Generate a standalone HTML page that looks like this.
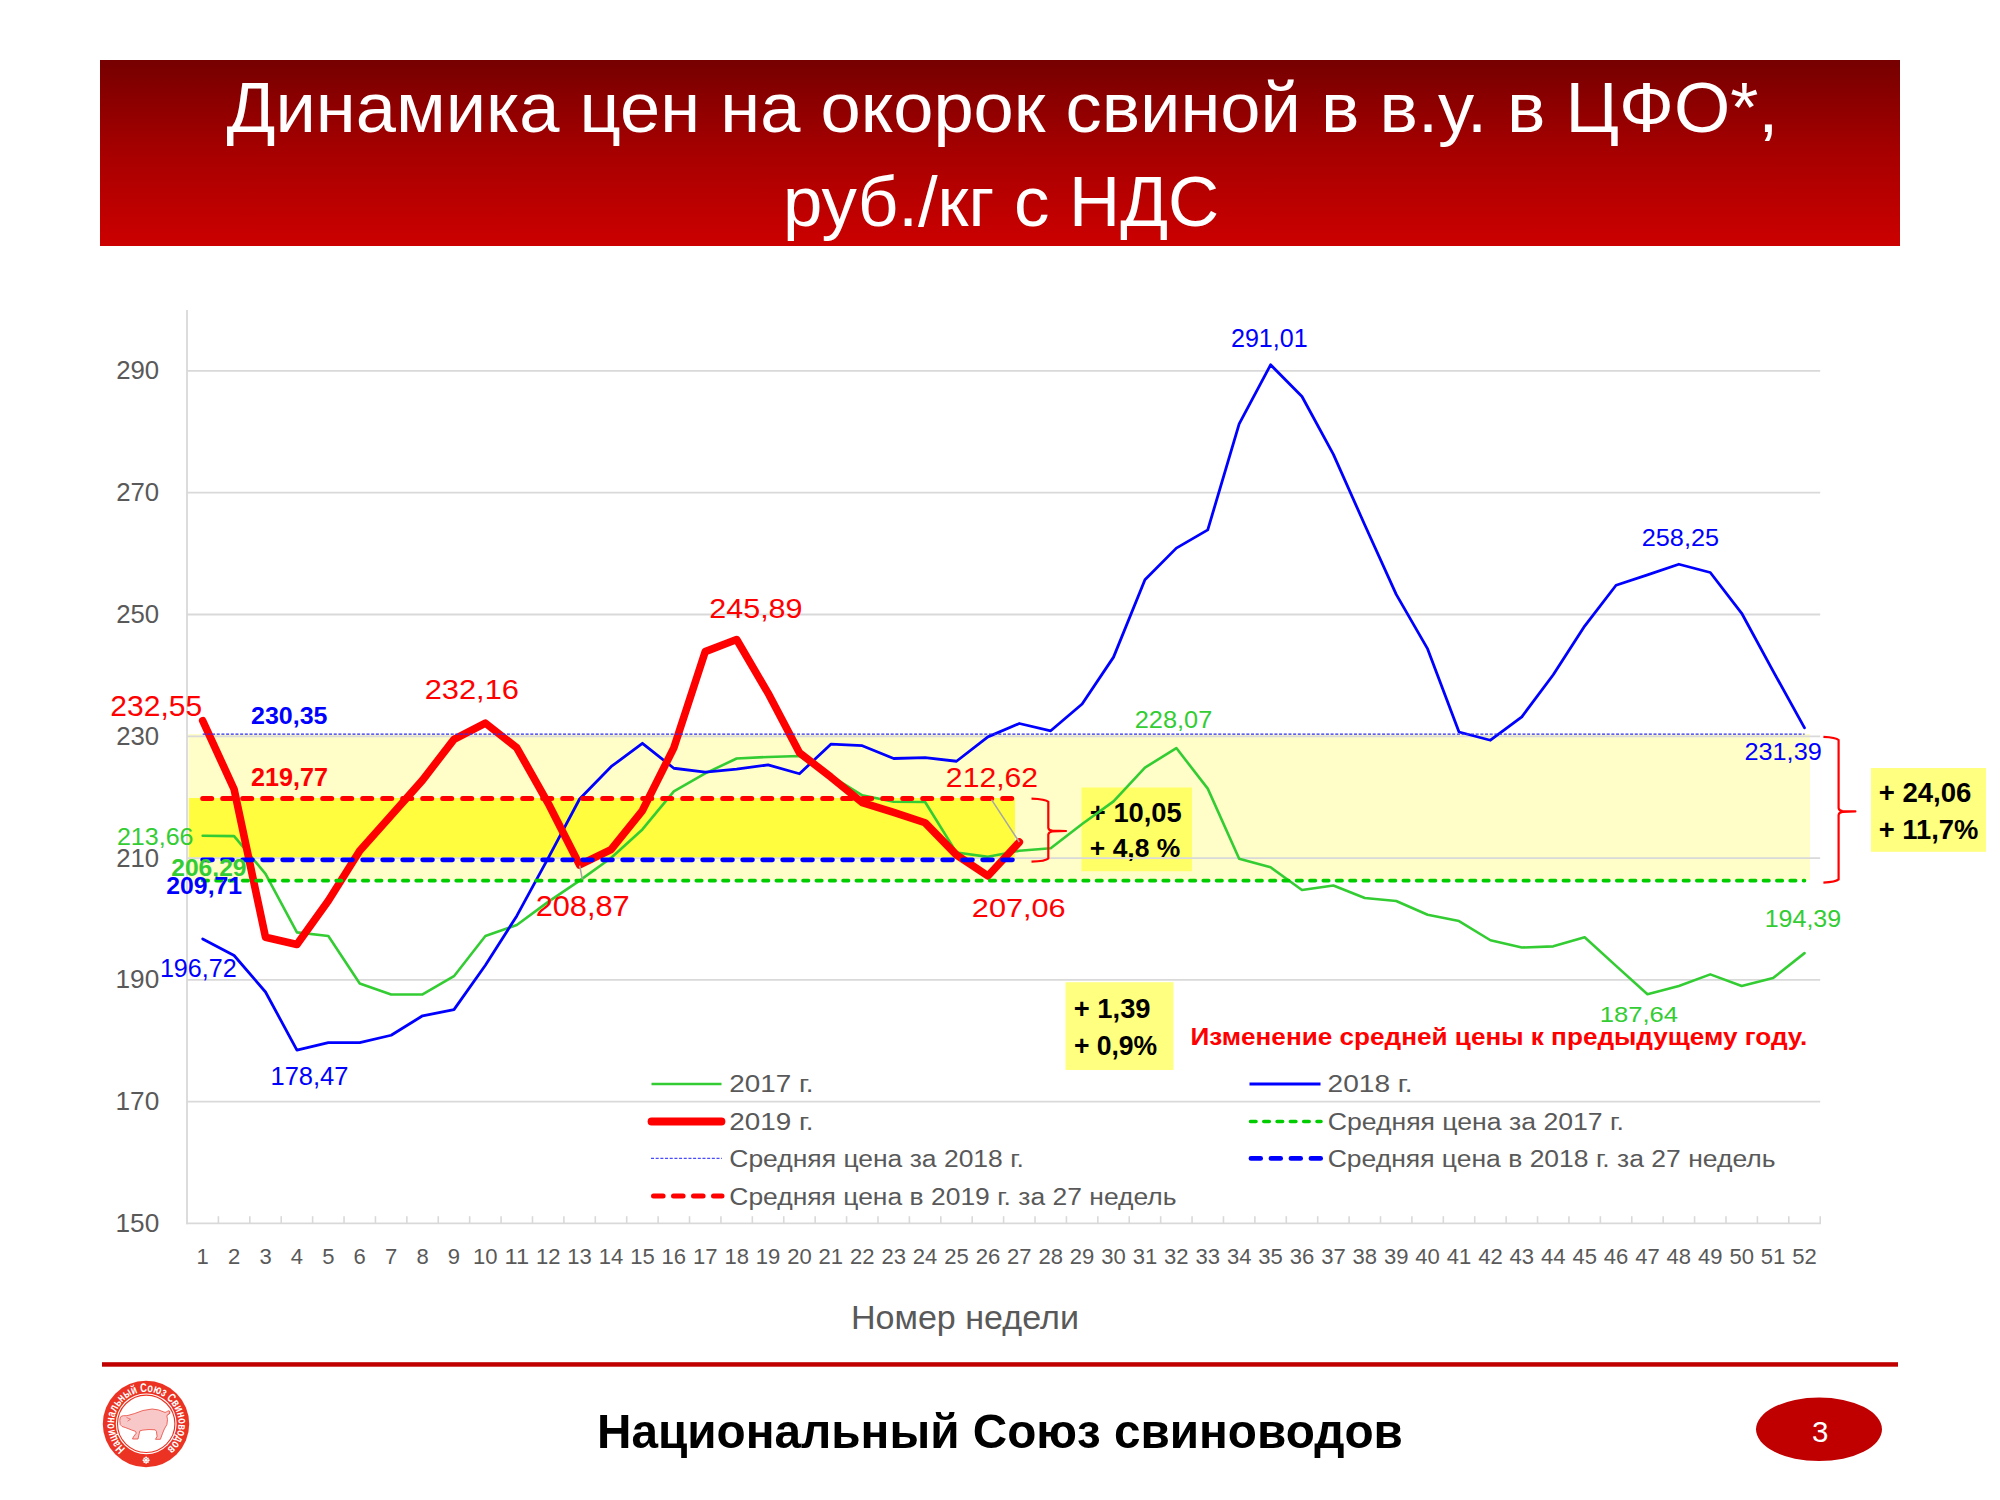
<!DOCTYPE html><html><head><meta charset="utf-8"><style>
html,body{margin:0;padding:0;background:#fff;overflow:hidden;width:2000px;height:1500px;}
svg{display:block;}
text{font-family:"Liberation Sans",sans-serif;}
</style></head><body>
<svg width="2000" height="1500" viewBox="0 0 2000 1500" font-family="Liberation Sans, sans-serif">
<defs>
<linearGradient id="bg" x1="0" y1="0" x2="0" y2="1">
<stop offset="0" stop-color="#760000"/><stop offset="0.5" stop-color="#a70000"/><stop offset="1" stop-color="#cc0000"/>
</linearGradient>
</defs>
<rect width="2000" height="1500" fill="#fff"/>
<rect x="100" y="60" width="1800" height="186" fill="url(#bg)"/>
<text x="226.47" y="131.80" font-size="69.71" fill="#fff" textLength="1552.00" lengthAdjust="spacingAndGlyphs">Динамика цен на окорок свиной в в.у. в ЦФО*,</text>
<text x="783.04" y="225.70" font-size="69.57" fill="#fff" textLength="436.16" lengthAdjust="spacingAndGlyphs">руб./кг с НДС</text>
<rect x="188.5" y="734" width="1621.5" height="146" fill="#fffdc8"/>
<rect x="189" y="798" width="826" height="59.5" fill="#fffd3e"/>
<rect x="1081.5" y="787.5" width="110.5" height="83.7" fill="#ffff66"/>
<rect x="1065.5" y="982.2" width="108" height="87.8" fill="#ffff80"/>
<rect x="1871" y="768" width="115" height="83.8" fill="#ffff80"/>
<text x="1089.85" y="821.80" font-size="27.64" font-weight="bold" fill="#000" textLength="91.91" lengthAdjust="spacingAndGlyphs">+ 10,05</text>
<text x="1089.89" y="856.50" font-size="25.78" font-weight="bold" fill="#000" textLength="90.31" lengthAdjust="spacingAndGlyphs">+ 4,8 %</text>
<line x1="187.0" y1="1101.62" x2="1820.2" y2="1101.62" stroke="#d9d9d9" stroke-width="1.8"/>
<line x1="187.0" y1="979.84" x2="1820.2" y2="979.84" stroke="#d9d9d9" stroke-width="1.8"/>
<line x1="187.0" y1="858.06" x2="1820.2" y2="858.06" stroke="#d9d9d9" stroke-width="1.8"/>
<line x1="187.0" y1="736.28" x2="1820.2" y2="736.28" stroke="#d9d9d9" stroke-width="1.8"/>
<line x1="187.0" y1="614.50" x2="1820.2" y2="614.50" stroke="#d9d9d9" stroke-width="1.8"/>
<line x1="187.0" y1="492.72" x2="1820.2" y2="492.72" stroke="#d9d9d9" stroke-width="1.8"/>
<line x1="187.0" y1="370.94" x2="1820.2" y2="370.94" stroke="#d9d9d9" stroke-width="1.8"/>
<line x1="187.0" y1="310" x2="187.0" y2="1224.20" stroke="#d9d9d9" stroke-width="1.8"/>
<line x1="186.1" y1="1223.40" x2="1821" y2="1223.40" stroke="#d9d9d9" stroke-width="1.8"/>
<line x1="218.41" y1="1216.2" x2="218.41" y2="1223.40" stroke="#d9d9d9" stroke-width="1.6"/>
<line x1="249.82" y1="1216.2" x2="249.82" y2="1223.40" stroke="#d9d9d9" stroke-width="1.6"/>
<line x1="281.22" y1="1216.2" x2="281.22" y2="1223.40" stroke="#d9d9d9" stroke-width="1.6"/>
<line x1="312.63" y1="1216.2" x2="312.63" y2="1223.40" stroke="#d9d9d9" stroke-width="1.6"/>
<line x1="344.04" y1="1216.2" x2="344.04" y2="1223.40" stroke="#d9d9d9" stroke-width="1.6"/>
<line x1="375.45" y1="1216.2" x2="375.45" y2="1223.40" stroke="#d9d9d9" stroke-width="1.6"/>
<line x1="406.86" y1="1216.2" x2="406.86" y2="1223.40" stroke="#d9d9d9" stroke-width="1.6"/>
<line x1="438.26" y1="1216.2" x2="438.26" y2="1223.40" stroke="#d9d9d9" stroke-width="1.6"/>
<line x1="469.67" y1="1216.2" x2="469.67" y2="1223.40" stroke="#d9d9d9" stroke-width="1.6"/>
<line x1="501.08" y1="1216.2" x2="501.08" y2="1223.40" stroke="#d9d9d9" stroke-width="1.6"/>
<line x1="532.49" y1="1216.2" x2="532.49" y2="1223.40" stroke="#d9d9d9" stroke-width="1.6"/>
<line x1="563.90" y1="1216.2" x2="563.90" y2="1223.40" stroke="#d9d9d9" stroke-width="1.6"/>
<line x1="595.30" y1="1216.2" x2="595.30" y2="1223.40" stroke="#d9d9d9" stroke-width="1.6"/>
<line x1="626.71" y1="1216.2" x2="626.71" y2="1223.40" stroke="#d9d9d9" stroke-width="1.6"/>
<line x1="658.12" y1="1216.2" x2="658.12" y2="1223.40" stroke="#d9d9d9" stroke-width="1.6"/>
<line x1="689.53" y1="1216.2" x2="689.53" y2="1223.40" stroke="#d9d9d9" stroke-width="1.6"/>
<line x1="720.94" y1="1216.2" x2="720.94" y2="1223.40" stroke="#d9d9d9" stroke-width="1.6"/>
<line x1="752.34" y1="1216.2" x2="752.34" y2="1223.40" stroke="#d9d9d9" stroke-width="1.6"/>
<line x1="783.75" y1="1216.2" x2="783.75" y2="1223.40" stroke="#d9d9d9" stroke-width="1.6"/>
<line x1="815.16" y1="1216.2" x2="815.16" y2="1223.40" stroke="#d9d9d9" stroke-width="1.6"/>
<line x1="846.57" y1="1216.2" x2="846.57" y2="1223.40" stroke="#d9d9d9" stroke-width="1.6"/>
<line x1="877.98" y1="1216.2" x2="877.98" y2="1223.40" stroke="#d9d9d9" stroke-width="1.6"/>
<line x1="909.38" y1="1216.2" x2="909.38" y2="1223.40" stroke="#d9d9d9" stroke-width="1.6"/>
<line x1="940.79" y1="1216.2" x2="940.79" y2="1223.40" stroke="#d9d9d9" stroke-width="1.6"/>
<line x1="972.20" y1="1216.2" x2="972.20" y2="1223.40" stroke="#d9d9d9" stroke-width="1.6"/>
<line x1="1003.61" y1="1216.2" x2="1003.61" y2="1223.40" stroke="#d9d9d9" stroke-width="1.6"/>
<line x1="1035.02" y1="1216.2" x2="1035.02" y2="1223.40" stroke="#d9d9d9" stroke-width="1.6"/>
<line x1="1066.42" y1="1216.2" x2="1066.42" y2="1223.40" stroke="#d9d9d9" stroke-width="1.6"/>
<line x1="1097.83" y1="1216.2" x2="1097.83" y2="1223.40" stroke="#d9d9d9" stroke-width="1.6"/>
<line x1="1129.24" y1="1216.2" x2="1129.24" y2="1223.40" stroke="#d9d9d9" stroke-width="1.6"/>
<line x1="1160.65" y1="1216.2" x2="1160.65" y2="1223.40" stroke="#d9d9d9" stroke-width="1.6"/>
<line x1="1192.06" y1="1216.2" x2="1192.06" y2="1223.40" stroke="#d9d9d9" stroke-width="1.6"/>
<line x1="1223.46" y1="1216.2" x2="1223.46" y2="1223.40" stroke="#d9d9d9" stroke-width="1.6"/>
<line x1="1254.87" y1="1216.2" x2="1254.87" y2="1223.40" stroke="#d9d9d9" stroke-width="1.6"/>
<line x1="1286.28" y1="1216.2" x2="1286.28" y2="1223.40" stroke="#d9d9d9" stroke-width="1.6"/>
<line x1="1317.69" y1="1216.2" x2="1317.69" y2="1223.40" stroke="#d9d9d9" stroke-width="1.6"/>
<line x1="1349.10" y1="1216.2" x2="1349.10" y2="1223.40" stroke="#d9d9d9" stroke-width="1.6"/>
<line x1="1380.50" y1="1216.2" x2="1380.50" y2="1223.40" stroke="#d9d9d9" stroke-width="1.6"/>
<line x1="1411.91" y1="1216.2" x2="1411.91" y2="1223.40" stroke="#d9d9d9" stroke-width="1.6"/>
<line x1="1443.32" y1="1216.2" x2="1443.32" y2="1223.40" stroke="#d9d9d9" stroke-width="1.6"/>
<line x1="1474.73" y1="1216.2" x2="1474.73" y2="1223.40" stroke="#d9d9d9" stroke-width="1.6"/>
<line x1="1506.14" y1="1216.2" x2="1506.14" y2="1223.40" stroke="#d9d9d9" stroke-width="1.6"/>
<line x1="1537.54" y1="1216.2" x2="1537.54" y2="1223.40" stroke="#d9d9d9" stroke-width="1.6"/>
<line x1="1568.95" y1="1216.2" x2="1568.95" y2="1223.40" stroke="#d9d9d9" stroke-width="1.6"/>
<line x1="1600.36" y1="1216.2" x2="1600.36" y2="1223.40" stroke="#d9d9d9" stroke-width="1.6"/>
<line x1="1631.77" y1="1216.2" x2="1631.77" y2="1223.40" stroke="#d9d9d9" stroke-width="1.6"/>
<line x1="1663.18" y1="1216.2" x2="1663.18" y2="1223.40" stroke="#d9d9d9" stroke-width="1.6"/>
<line x1="1694.58" y1="1216.2" x2="1694.58" y2="1223.40" stroke="#d9d9d9" stroke-width="1.6"/>
<line x1="1725.99" y1="1216.2" x2="1725.99" y2="1223.40" stroke="#d9d9d9" stroke-width="1.6"/>
<line x1="1757.40" y1="1216.2" x2="1757.40" y2="1223.40" stroke="#d9d9d9" stroke-width="1.6"/>
<line x1="1788.81" y1="1216.2" x2="1788.81" y2="1223.40" stroke="#d9d9d9" stroke-width="1.6"/>
<line x1="1820.22" y1="1216.2" x2="1820.22" y2="1223.40" stroke="#d9d9d9" stroke-width="1.6"/>
<polyline points="202.70,835.77 234.11,836.14 265.52,873.89 296.93,932.35 328.34,936.00 359.74,983.49 391.15,994.45 422.56,994.45 453.97,976.19 485.38,936.00 516.78,925.04 548.19,901.90 579.60,880.59 611.01,858.06 642.42,829.44 673.82,791.39 705.23,773.42 736.64,758.50 768.05,756.98 799.46,756.07 830.86,775.86 862.27,795.34 893.68,801.74 925.09,802.04 956.50,852.58 987.90,856.84 1019.31,850.75 1050.72,848.32 1082.13,823.96 1113.54,801.43 1144.94,767.64 1176.35,748.03 1207.76,788.65 1239.17,858.67 1270.58,867.19 1301.98,890.03 1333.39,885.46 1364.80,897.94 1396.21,900.99 1427.62,914.69 1459.02,921.08 1490.43,940.26 1521.84,947.57 1553.25,946.35 1584.66,937.22 1616.06,965.84 1647.47,994.21 1678.88,985.93 1710.29,974.36 1741.70,985.93 1773.10,978.01 1804.51,953.11" fill="none" stroke="#33cc33" stroke-width="2.6" stroke-linejoin="round" stroke-linecap="round"/>
<polyline points="202.70,938.92 234.11,955.48 265.52,992.02 296.93,1050.05 328.34,1042.56 359.74,1042.56 391.15,1035.25 422.56,1015.77 453.97,1009.68 485.38,965.23 516.78,915.91 548.19,858.06 579.60,799.00 611.01,766.73 642.42,743.28 673.82,768.25 705.23,772.21 736.64,769.16 768.05,764.90 799.46,773.73 830.86,744.20 862.27,745.72 893.68,758.50 925.09,757.59 956.50,761.24 987.90,736.89 1019.31,723.49 1050.72,730.80 1082.13,704.01 1113.54,657.12 1144.94,579.79 1176.35,548.13 1207.76,529.86 1239.17,423.91 1270.58,364.79 1301.98,396.51 1333.39,454.36 1364.80,524.99 1396.21,594.41 1427.62,648.90 1459.02,732.02 1490.43,740.24 1521.84,716.80 1553.25,674.78 1584.66,626.07 1616.06,585.27 1647.47,574.92 1678.88,564.27 1710.29,572.49 1741.70,613.28 1773.10,671.13 1804.51,727.82" fill="none" stroke="#0000ff" stroke-width="2.8" stroke-linejoin="round" stroke-linecap="round"/>
<polyline points="202.70,720.75 234.11,789.25 265.52,937.22 296.93,944.52 328.34,900.68 359.74,850.75 391.15,815.44 422.56,780.12 453.97,739.32 485.38,723.13 516.78,747.85 548.19,803.26 579.60,864.94 611.01,849.54 642.42,810.57 673.82,747.85 705.23,651.64 736.64,639.53 768.05,693.05 799.46,752.72 830.86,777.08 862.27,802.65 893.68,812.39 925.09,822.74 956.50,855.02 987.90,875.96 1019.31,842.11" fill="none" stroke="#ff0000" stroke-width="7.6" stroke-linejoin="round" stroke-linecap="round"/>
<line x1="202.70" y1="880.65" x2="1804.51" y2="880.65" stroke="#00cc00" stroke-width="3.6" stroke-dasharray="5.5 7.84" stroke-linecap="round"/>
<line x1="202.70" y1="734.15" x2="1804.51" y2="734.15" stroke="#2a2aff" stroke-width="1.4" stroke-dasharray="3 1.68" stroke-linecap="butt"/>
<line x1="202.70" y1="859.83" x2="1019.31" y2="859.83" stroke="#0000ff" stroke-width="4.9" stroke-dasharray="9.7 10.3" stroke-linecap="round"/>
<line x1="202.70" y1="798.57" x2="1019.31" y2="798.57" stroke="#ff0000" stroke-width="5.0" stroke-dasharray="9 11" stroke-linecap="round"/>
<line x1="579.7" y1="865.6" x2="582.3" y2="879.4" stroke="#a6a6a6" stroke-width="1.5"/>
<line x1="991.5" y1="799.6" x2="1019.3" y2="842" stroke="#a6a6a6" stroke-width="1.5"/>
<path d="M1031.5,798.6 C1040.3,798.9 1045.7,799.2 1048.3,801.8000000000001 L1048.3,827.8 Q1048.6,830.4 1052.3,830.7 L1066,831 L1052.3,831.5 Q1048.6,831.8 1048.3,834.6 L1048.3,858.5 C1045.7,861.1 1040.3,861.4000000000001 1031.5,861.7" fill="none" stroke="#ff0000" stroke-width="2.2" stroke-linejoin="round"/>
<path d="M1823.4,736.8 C1830.6,737.0999999999999 1836.0,737.4 1838.6,740.0 L1838.6,808.1999999999999 Q1838.8999999999999,810.8 1842.6,811.1 L1855.4,811.4 L1842.6,811.9 Q1838.8999999999999,812.1999999999999 1838.6,815.0 L1838.6,879.4 C1836.0,882.0 1830.6,882.3000000000001 1823.4,882.6" fill="none" stroke="#ff0000" stroke-width="2.2" stroke-linejoin="round"/>
<text x="115.50" y="1231.90" font-size="24.92" fill="#595959" textLength="43.72" lengthAdjust="spacingAndGlyphs">150</text>
<text x="115.50" y="1110.12" font-size="24.92" fill="#595959" textLength="43.72" lengthAdjust="spacingAndGlyphs">170</text>
<text x="115.50" y="988.34" font-size="24.92" fill="#595959" textLength="43.72" lengthAdjust="spacingAndGlyphs">190</text>
<text x="116.20" y="866.56" font-size="24.92" fill="#595959" textLength="43.00" lengthAdjust="spacingAndGlyphs">210</text>
<text x="116.20" y="744.78" font-size="24.92" fill="#595959" textLength="43.00" lengthAdjust="spacingAndGlyphs">230</text>
<text x="116.20" y="623.00" font-size="24.92" fill="#595959" textLength="43.00" lengthAdjust="spacingAndGlyphs">250</text>
<text x="116.20" y="501.22" font-size="24.92" fill="#595959" textLength="43.00" lengthAdjust="spacingAndGlyphs">270</text>
<text x="116.20" y="379.44" font-size="24.92" fill="#595959" textLength="43.00" lengthAdjust="spacingAndGlyphs">290</text>
<text x="196.57" y="1263.7" font-size="22.49" fill="#595959" textLength="12.26" lengthAdjust="spacingAndGlyphs">1</text>
<text x="227.98" y="1263.7" font-size="22.49" fill="#595959" textLength="12.26" lengthAdjust="spacingAndGlyphs">2</text>
<text x="259.39" y="1263.7" font-size="22.49" fill="#595959" textLength="12.26" lengthAdjust="spacingAndGlyphs">3</text>
<text x="290.80" y="1263.7" font-size="22.49" fill="#595959" textLength="12.26" lengthAdjust="spacingAndGlyphs">4</text>
<text x="322.21" y="1263.7" font-size="22.49" fill="#595959" textLength="12.26" lengthAdjust="spacingAndGlyphs">5</text>
<text x="353.61" y="1263.7" font-size="22.49" fill="#595959" textLength="12.26" lengthAdjust="spacingAndGlyphs">6</text>
<text x="385.02" y="1263.7" font-size="22.49" fill="#595959" textLength="12.26" lengthAdjust="spacingAndGlyphs">7</text>
<text x="416.43" y="1263.7" font-size="22.49" fill="#595959" textLength="12.26" lengthAdjust="spacingAndGlyphs">8</text>
<text x="447.84" y="1263.7" font-size="22.49" fill="#595959" textLength="12.26" lengthAdjust="spacingAndGlyphs">9</text>
<text x="473.12" y="1263.7" font-size="22.49" fill="#595959" textLength="24.52" lengthAdjust="spacingAndGlyphs">10</text>
<text x="504.52" y="1263.7" font-size="22.49" fill="#595959" textLength="24.52" lengthAdjust="spacingAndGlyphs">11</text>
<text x="535.93" y="1263.7" font-size="22.49" fill="#595959" textLength="24.52" lengthAdjust="spacingAndGlyphs">12</text>
<text x="567.34" y="1263.7" font-size="22.49" fill="#595959" textLength="24.52" lengthAdjust="spacingAndGlyphs">13</text>
<text x="598.75" y="1263.7" font-size="22.49" fill="#595959" textLength="24.52" lengthAdjust="spacingAndGlyphs">14</text>
<text x="630.16" y="1263.7" font-size="22.49" fill="#595959" textLength="24.52" lengthAdjust="spacingAndGlyphs">15</text>
<text x="661.56" y="1263.7" font-size="22.49" fill="#595959" textLength="24.52" lengthAdjust="spacingAndGlyphs">16</text>
<text x="692.97" y="1263.7" font-size="22.49" fill="#595959" textLength="24.52" lengthAdjust="spacingAndGlyphs">17</text>
<text x="724.38" y="1263.7" font-size="22.49" fill="#595959" textLength="24.52" lengthAdjust="spacingAndGlyphs">18</text>
<text x="755.79" y="1263.7" font-size="22.49" fill="#595959" textLength="24.52" lengthAdjust="spacingAndGlyphs">19</text>
<text x="787.20" y="1263.7" font-size="22.49" fill="#595959" textLength="24.52" lengthAdjust="spacingAndGlyphs">20</text>
<text x="818.60" y="1263.7" font-size="22.49" fill="#595959" textLength="24.52" lengthAdjust="spacingAndGlyphs">21</text>
<text x="850.01" y="1263.7" font-size="22.49" fill="#595959" textLength="24.52" lengthAdjust="spacingAndGlyphs">22</text>
<text x="881.42" y="1263.7" font-size="22.49" fill="#595959" textLength="24.52" lengthAdjust="spacingAndGlyphs">23</text>
<text x="912.83" y="1263.7" font-size="22.49" fill="#595959" textLength="24.52" lengthAdjust="spacingAndGlyphs">24</text>
<text x="944.24" y="1263.7" font-size="22.49" fill="#595959" textLength="24.52" lengthAdjust="spacingAndGlyphs">25</text>
<text x="975.64" y="1263.7" font-size="22.49" fill="#595959" textLength="24.52" lengthAdjust="spacingAndGlyphs">26</text>
<text x="1007.05" y="1263.7" font-size="22.49" fill="#595959" textLength="24.52" lengthAdjust="spacingAndGlyphs">27</text>
<text x="1038.46" y="1263.7" font-size="22.49" fill="#595959" textLength="24.52" lengthAdjust="spacingAndGlyphs">28</text>
<text x="1069.87" y="1263.7" font-size="22.49" fill="#595959" textLength="24.52" lengthAdjust="spacingAndGlyphs">29</text>
<text x="1101.28" y="1263.7" font-size="22.49" fill="#595959" textLength="24.52" lengthAdjust="spacingAndGlyphs">30</text>
<text x="1132.68" y="1263.7" font-size="22.49" fill="#595959" textLength="24.52" lengthAdjust="spacingAndGlyphs">31</text>
<text x="1164.09" y="1263.7" font-size="22.49" fill="#595959" textLength="24.52" lengthAdjust="spacingAndGlyphs">32</text>
<text x="1195.50" y="1263.7" font-size="22.49" fill="#595959" textLength="24.52" lengthAdjust="spacingAndGlyphs">33</text>
<text x="1226.91" y="1263.7" font-size="22.49" fill="#595959" textLength="24.52" lengthAdjust="spacingAndGlyphs">34</text>
<text x="1258.32" y="1263.7" font-size="22.49" fill="#595959" textLength="24.52" lengthAdjust="spacingAndGlyphs">35</text>
<text x="1289.72" y="1263.7" font-size="22.49" fill="#595959" textLength="24.52" lengthAdjust="spacingAndGlyphs">36</text>
<text x="1321.13" y="1263.7" font-size="22.49" fill="#595959" textLength="24.52" lengthAdjust="spacingAndGlyphs">37</text>
<text x="1352.54" y="1263.7" font-size="22.49" fill="#595959" textLength="24.52" lengthAdjust="spacingAndGlyphs">38</text>
<text x="1383.95" y="1263.7" font-size="22.49" fill="#595959" textLength="24.52" lengthAdjust="spacingAndGlyphs">39</text>
<text x="1415.36" y="1263.7" font-size="22.49" fill="#595959" textLength="24.52" lengthAdjust="spacingAndGlyphs">40</text>
<text x="1446.76" y="1263.7" font-size="22.49" fill="#595959" textLength="24.52" lengthAdjust="spacingAndGlyphs">41</text>
<text x="1478.17" y="1263.7" font-size="22.49" fill="#595959" textLength="24.52" lengthAdjust="spacingAndGlyphs">42</text>
<text x="1509.58" y="1263.7" font-size="22.49" fill="#595959" textLength="24.52" lengthAdjust="spacingAndGlyphs">43</text>
<text x="1540.99" y="1263.7" font-size="22.49" fill="#595959" textLength="24.52" lengthAdjust="spacingAndGlyphs">44</text>
<text x="1572.40" y="1263.7" font-size="22.49" fill="#595959" textLength="24.52" lengthAdjust="spacingAndGlyphs">45</text>
<text x="1603.80" y="1263.7" font-size="22.49" fill="#595959" textLength="24.52" lengthAdjust="spacingAndGlyphs">46</text>
<text x="1635.21" y="1263.7" font-size="22.49" fill="#595959" textLength="24.52" lengthAdjust="spacingAndGlyphs">47</text>
<text x="1666.62" y="1263.7" font-size="22.49" fill="#595959" textLength="24.52" lengthAdjust="spacingAndGlyphs">48</text>
<text x="1698.03" y="1263.7" font-size="22.49" fill="#595959" textLength="24.52" lengthAdjust="spacingAndGlyphs">49</text>
<text x="1729.44" y="1263.7" font-size="22.49" fill="#595959" textLength="24.52" lengthAdjust="spacingAndGlyphs">50</text>
<text x="1760.84" y="1263.7" font-size="22.49" fill="#595959" textLength="24.52" lengthAdjust="spacingAndGlyphs">51</text>
<text x="1792.25" y="1263.7" font-size="22.49" fill="#595959" textLength="24.52" lengthAdjust="spacingAndGlyphs">52</text>
<text x="110.39" y="715.90" font-size="29.07" fill="#ff0000" textLength="91.67" lengthAdjust="spacingAndGlyphs">232,55</text>
<text x="424.65" y="698.60" font-size="28.50" fill="#ff0000" textLength="94.31" lengthAdjust="spacingAndGlyphs">232,16</text>
<text x="709.27" y="617.80" font-size="28.50" fill="#ff0000" textLength="93.28" lengthAdjust="spacingAndGlyphs">245,89</text>
<text x="535.65" y="915.80" font-size="28.93" fill="#ff0000" textLength="94.09" lengthAdjust="spacingAndGlyphs">208,87</text>
<text x="945.88" y="786.60" font-size="27.35" fill="#ff0000" textLength="92.23" lengthAdjust="spacingAndGlyphs">212,62</text>
<text x="971.86" y="916.50" font-size="26.07" fill="#ff0000" textLength="93.79" lengthAdjust="spacingAndGlyphs">207,06</text>
<text x="159.89" y="976.70" font-size="25.35" fill="#0000ff" textLength="76.88" lengthAdjust="spacingAndGlyphs">196,72</text>
<text x="270.46" y="1085.30" font-size="25.21" fill="#0000ff" textLength="78.03" lengthAdjust="spacingAndGlyphs">178,47</text>
<text x="1230.94" y="347.00" font-size="25.21" fill="#0000ff" textLength="76.79" lengthAdjust="spacingAndGlyphs">291,01</text>
<text x="1641.73" y="546.00" font-size="24.63" fill="#0000ff" textLength="77.33" lengthAdjust="spacingAndGlyphs">258,25</text>
<text x="1744.43" y="760.00" font-size="24.35" fill="#0000ff" textLength="77.37" lengthAdjust="spacingAndGlyphs">231,39</text>
<text x="116.94" y="844.70" font-size="24.06" fill="#33cc33" textLength="76.56" lengthAdjust="spacingAndGlyphs">213,66</text>
<text x="1134.72" y="728.00" font-size="24.78" fill="#33cc33" textLength="77.55" lengthAdjust="spacingAndGlyphs">228,07</text>
<text x="1764.70" y="927.40" font-size="24.20" fill="#33cc33" textLength="76.49" lengthAdjust="spacingAndGlyphs">194,39</text>
<text x="1599.75" y="1022.00" font-size="22.91" fill="#33cc33" textLength="78.30" lengthAdjust="spacingAndGlyphs">187,64</text>
<text x="251.03" y="723.60" font-size="24.49" font-weight="bold" fill="#0000ff" textLength="76.46" lengthAdjust="spacingAndGlyphs">230,35</text>
<text x="251.03" y="785.90" font-size="25.06" font-weight="bold" fill="#ff0000" textLength="76.88" lengthAdjust="spacingAndGlyphs">219,77</text>
<text x="171.25" y="876.20" font-size="23.06" font-weight="bold" fill="#33cc33" textLength="75.27" lengthAdjust="spacingAndGlyphs">206,29</text>
<text x="166.34" y="894.40" font-size="23.06" font-weight="bold" fill="#0000ff" textLength="75.75" lengthAdjust="spacingAndGlyphs">209,71</text>
<text x="1073.85" y="1017.50" font-size="27.21" font-weight="bold" fill="#000" textLength="76.66" lengthAdjust="spacingAndGlyphs">+ 1,39</text>
<text x="1073.89" y="1055.00" font-size="27.93" font-weight="bold" fill="#000" textLength="83.31" lengthAdjust="spacingAndGlyphs">+ 0,9%</text>
<text x="1878.64" y="802.20" font-size="28.36" font-weight="bold" fill="#000" textLength="92.75" lengthAdjust="spacingAndGlyphs">+ 24,06</text>
<text x="1878.67" y="838.80" font-size="27.59" font-weight="bold" fill="#000" textLength="99.64" lengthAdjust="spacingAndGlyphs">+ 11,7%</text>
<text x="1190.57" y="1044.50" font-size="24.71" font-weight="bold" fill="#ff0000" textLength="616.81" lengthAdjust="spacingAndGlyphs">Изменение средней цены к предыдущему году.</text>
<line x1="651.5" y1="1084" x2="721.5" y2="1084" stroke="#33cc33" stroke-width="2.6" stroke-linecap="butt"/>
<line x1="651.5" y1="1121.5" x2="721.5" y2="1121.5" stroke="#ff0000" stroke-width="7.8" stroke-linecap="round"/>
<line x1="651" y1="1158.4" x2="722" y2="1158.4" stroke="#4a4aff" stroke-width="1.3" stroke-linecap="butt" stroke-dasharray="3 1.68"/>
<line x1="653.5" y1="1195.9" x2="722" y2="1195.9" stroke="#ff0000" stroke-width="5" stroke-linecap="round" stroke-dasharray="9.6 10.4"/>
<line x1="1249.5" y1="1084" x2="1320.5" y2="1084" stroke="#0000ff" stroke-width="2.8" stroke-linecap="butt"/>
<line x1="1250.5" y1="1121.5" x2="1321" y2="1121.5" stroke="#00cc00" stroke-width="3.6" stroke-linecap="round" stroke-dasharray="5.5 7.8"/>
<line x1="1251" y1="1158.4" x2="1321" y2="1158.4" stroke="#0000ff" stroke-width="4.9" stroke-linecap="round" stroke-dasharray="9.6 10.4"/>
<text x="729.25" y="1092.40" font-size="24.63" fill="#595959" textLength="84.19" lengthAdjust="spacingAndGlyphs">2017 г.</text>
<text x="729.25" y="1129.60" font-size="24.63" fill="#595959" textLength="84.19" lengthAdjust="spacingAndGlyphs">2019 г.</text>
<text x="729.27" y="1167.10" font-size="24.63" fill="#595959" textLength="294.71" lengthAdjust="spacingAndGlyphs">Средняя цена за 2018 г.</text>
<text x="729.27" y="1204.60" font-size="24.63" fill="#595959" textLength="447.30" lengthAdjust="spacingAndGlyphs">Средняя цена в 2019 г. за 27 недель</text>
<text x="1327.64" y="1092.40" font-size="24.63" fill="#595959" textLength="84.82" lengthAdjust="spacingAndGlyphs">2018 г.</text>
<text x="1327.67" y="1129.60" font-size="24.63" fill="#595959" textLength="296.23" lengthAdjust="spacingAndGlyphs">Средняя цена за 2017 г.</text>
<text x="1327.67" y="1167.10" font-size="24.63" fill="#595959" textLength="447.90" lengthAdjust="spacingAndGlyphs">Средняя цена в 2018 г. за 27 недель</text>
<text x="850.93" y="1329.00" font-size="32.99" fill="#595959" textLength="228.02" lengthAdjust="spacingAndGlyphs">Номер недели</text>
<rect x="102" y="1362.2" width="1796" height="4.5" fill="#c00000"/>
<text x="597.02" y="1447.50" font-size="48.69" font-weight="bold" fill="#000" textLength="805.84" lengthAdjust="spacingAndGlyphs">Национальный Союз свиноводов</text>
<ellipse cx="1819" cy="1429.3" rx="63" ry="31.8" fill="#c00000"/>
<text x="1811.88" y="1442.00" font-size="30.08" fill="#fff" textLength="16.42" lengthAdjust="spacingAndGlyphs">3</text>
<g>
<circle cx="146" cy="1424" r="43.2" fill="#ec3323"/>
<circle cx="146.2" cy="1423.8" r="30.4" fill="#fff"/>
<circle cx="146.2" cy="1423.8" r="28.7" fill="none" stroke="#ec3323" stroke-width="1.1"/>
<path d="M121.2,1416.3 L120.2,1417.9 L119.8,1420.3 L120.2,1424.6 L122.1,1426.5 L125.8,1427.7 L131.9,1430.1 L135.6,1431.4 L136.2,1433.2 L133.4,1436.9 L132.5,1439.0 L138.0,1439.0 L139.3,1433.2 L139.9,1430.8 L142.9,1430.1 L149.1,1429.5 L155.2,1429.8 L156.4,1431.4 L157.1,1436.3 L155.5,1439.3 L160.4,1439.3 L162.6,1433.2 L164.4,1428.9 L166.9,1424.6 L167.5,1419.7 L166.9,1416.0 L167.5,1414.8 L169.9,1413.3 L169.6,1411.1 L167.8,1410.8 L166.6,1412.0 L165.0,1412.4 L158.3,1409.9 L152.1,1409.0 L142.9,1410.5 L134.4,1413.6 L127.0,1415.7 L123.3,1415.7 Z" fill="#f8c8c8" stroke="#e8453a" stroke-width="0.8" stroke-linejoin="round"/>
<path d="M126.5,1417.5 L130.5,1419.2 L127.5,1421.2" fill="none" stroke="#e8453a" stroke-width="0.6"/>
<path d="M167.5,1414.8 C169.2,1414.6 170.2,1412.6 169.2,1411.6" fill="none" stroke="#e8453a" stroke-width="0.6"/>
<path id="ringp" d="M125.5,1448.6 A32.2,32.2 0 1,1 167.2,1448.5" fill="none"/>
<text font-size="12.4" font-weight="bold" fill="#fff"><textPath href="#ringp" textLength="157" lengthAdjust="spacingAndGlyphs">Национальный Союз Свиноводов</textPath></text>
<g fill="#fff"><circle cx="146.1" cy="1460.2" r="1.6"/>
<circle cx="146.1" cy="1457.6" r="1"/><circle cx="146.1" cy="1462.8" r="1"/><circle cx="143.5" cy="1460.2" r="1"/><circle cx="148.7" cy="1460.2" r="1"/>
<circle cx="144.3" cy="1458.4" r="0.9"/><circle cx="147.9" cy="1458.4" r="0.9"/><circle cx="144.3" cy="1462" r="0.9"/><circle cx="147.9" cy="1462" r="0.9"/></g>
</g>
</svg></body></html>
